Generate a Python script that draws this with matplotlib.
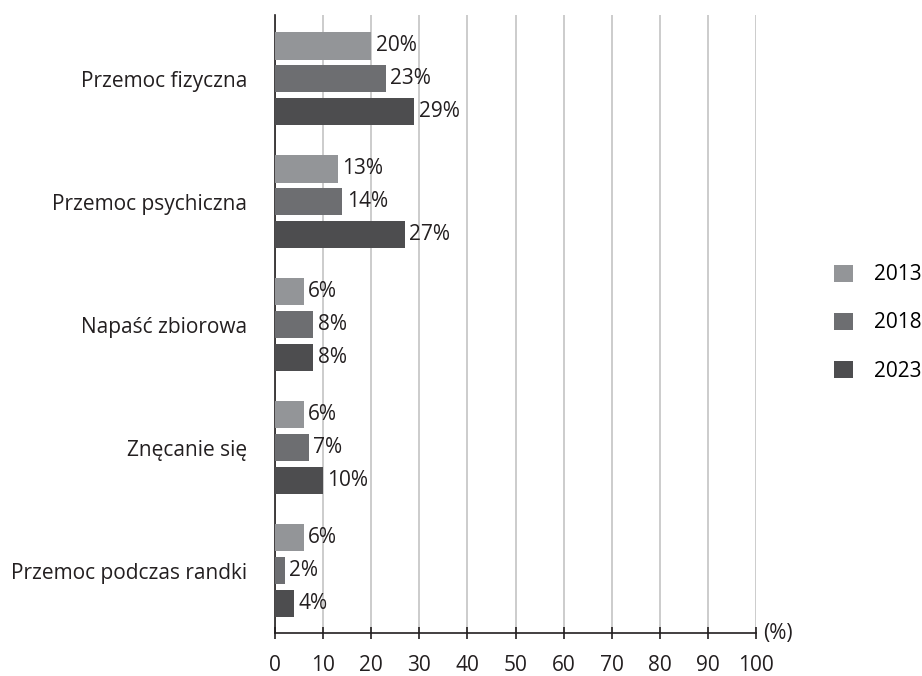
import matplotlib.pyplot as plt
from matplotlib.patches import Patch
import numpy as np

# dane
kategorie = ["Przemoc fizyczna", "Przemoc psychiczna", "Napaść zbiorowa",
             "Znęcanie się", "Przemoc podczas randki"]
lata = ["2013", "2018", "2023"]
v2013 = [20, 13, 6, 6, 6]
v2018 = [23, 14, 8, 7, 2]
v2023 = [29, 27, 8, 10, 4]
kolory = ["#939598", "#6d6e71", "#4d4d4f"]
xticks = list(range(0, 101, 10))

plt.rcParams["font.family"] = ["Open Sans", "DejaVu Sans"]
fs = 15

fig = plt.figure(figsize=(9.22, 6.76), dpi=100)
ax = fig.add_axes([275 / 922, 1 - 633 / 676, (756 - 275) / 922, (633 - 15) / 676])

y = np.arange(len(kategorie))
h = 0.22
off = 0.268
for i, (vals, c) in enumerate(zip([v2013, v2018, v2023], kolory)):
    pos = y + (i - 1) * off
    ax.barh(pos, vals, height=h, color=c, zorder=3)
    for p, v in zip(pos, vals):
        ax.text(v + 0.9, p, f"{v}%", va="center", ha="left", fontsize=fs, color="#231f20")

ax.set_xlim(0, 100)
ax.set_ylim(4.505, -0.52)
ax.set_xticks(xticks)
ax.set_xticklabels([str(t) for t in xticks], fontsize=fs, color="#231f20")
ax.set_yticks(y)
ax.set_yticklabels(kategorie, fontsize=fs, color="#231f20")
ax.tick_params(axis="y", length=0, pad=20)
ax.tick_params(axis="x", direction="inout", length=9, width=1.2, pad=11, color="#231f20")
ax.grid(axis="x", color="#c8c8c8", linewidth=1.3, zorder=0)
for s in ["top", "right"]:
    ax.spines[s].set_visible(False)
for s in ["left", "bottom"]:
    ax.spines[s].set_color("#231f20")
    ax.spines[s].set_linewidth(1.2)

ax.text(101.5, 4.505, "(%)", ha="left", va="center", fontsize=fs, color="#231f20")

handles = [Patch(facecolor=c, label=l) for c, l in zip(kolory, lata)]
fig.legend(handles=handles, loc="center left", bbox_to_anchor=(834 / 922, 1 - 323 / 676),
           frameon=False, fontsize=fs, handlelength=0.9, handleheight=0.9,
           labelspacing=1.3, handletextpad=1.0, borderpad=0, borderaxespad=0)

fig.savefig("out.png", dpi=100)
